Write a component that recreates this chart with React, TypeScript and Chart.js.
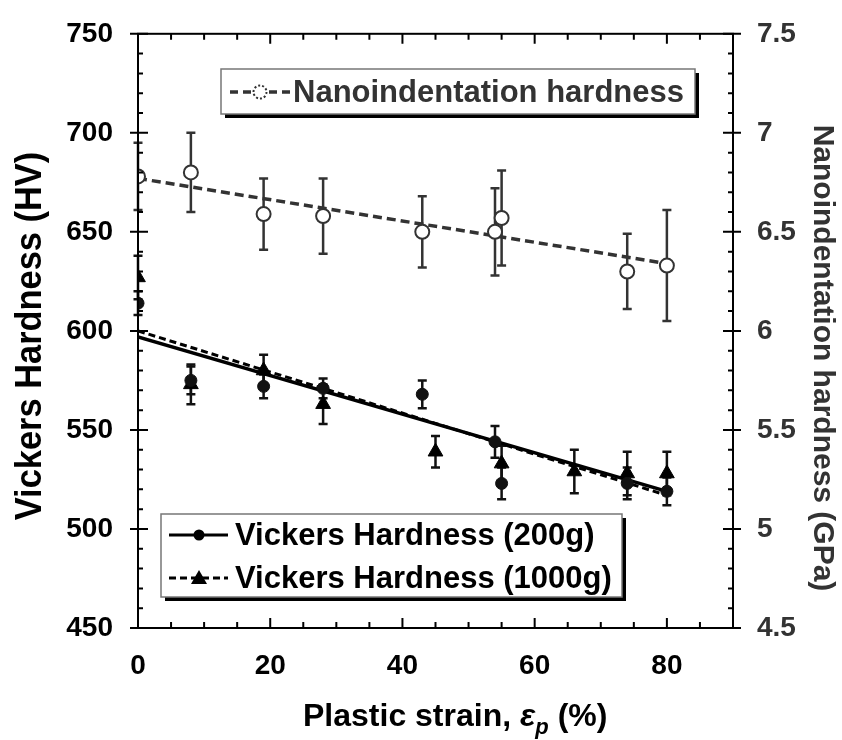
import React, { useEffect, useRef } from 'react';
import { Chart, registerables } from 'chart.js';

Chart.register(...registerables);

// ---- data ----
const strainNano = [0, 8, 19, 28, 43, 54, 55, 74, 80];
const nanoHardness = [6.78, 6.80, 6.59, 6.58, 6.50, 6.50, 6.57, 6.30, 6.33];
const nanoErr = [0.17, 0.20, 0.18, 0.19, 0.18, 0.22, 0.24, 0.19, 0.28];

const strain200 = [0, 8, 19, 28, 43, 54, 55, 74, 80];
const hv200 = [614, 575, 572, 571, 568, 544, 523, 523, 519];
const hv200Err = [6, 7, 6, 5, 7, 8, 8, 8, 7];

const strain1000 = [0, 8, 19, 28, 45, 55, 66, 74, 80];
const hv1000 = [627, 573, 580, 563, 539, 533, 529, 528, 528];
const hv1000Err = [11, 10, 8, 10, 8, 9, 11, 11, 11];

const fitStrain = [0, 80];
const fitNano = [6.77, 6.34];
const fit200 = [597, 519];
const fit1000 = [600, 517];

const xTickLabels = [0, 20, 40, 60, 80];
const yTickLabels = [450, 500, 550, 600, 650, 700, 750];
const y2TickLabels = ['4.5', '5', '5.5', '6', '6.5', '7', '7.5'];

const legendNano = 'Nanoindentation hardness';
const legend200 = 'Vickers Hardness (200g)';
const legend1000 = 'Vickers Hardness (1000g)';
const yTitle = 'Vickers Hardness (HV)';
const y2Title = 'Nanoindentation hardness (GPa)';

const FONT = '"Liberation Sans", Arial, Helvetica, sans-serif';
const GRAY = '#333';

const pts = (xs: number[], ys: number[]) => xs.map((x, i) => ({ x, y: ys[i] }));

const decor = {
  id: 'decor',
  beforeDatasetsDraw(chart: any) {
    const { ctx } = chart;
    const xs = chart.scales.x;
    const drawErr = (sx: number[], sy: number[], se: number[], scale: any, color: string) => {
      ctx.save();
      ctx.strokeStyle = color;
      ctx.lineWidth = 2.5;
      sx.forEach((v, i) => {
        const px = xs.getPixelForValue(v);
        const top = scale.getPixelForValue(sy[i] + se[i]);
        const bot = scale.getPixelForValue(sy[i] - se[i]);
        ctx.beginPath();
        ctx.moveTo(px, top);
        ctx.lineTo(px, bot);
        ctx.moveTo(px - 4.5, top);
        ctx.lineTo(px + 4.5, top);
        ctx.moveTo(px - 4.5, bot);
        ctx.lineTo(px + 4.5, bot);
        ctx.stroke();
      });
      ctx.restore();
    };
    drawErr(strainNano, nanoHardness, nanoErr, chart.scales.y2, GRAY);
    drawErr(strain200, hv200, hv200Err, chart.scales.y, '#111');
    drawErr(strain1000, hv1000, hv1000Err, chart.scales.y, '#111');
  },
  afterDraw(chart: any) {
    const { ctx, chartArea: a } = chart;
    const xs = chart.scales.x;
    const ys = chart.scales.y;
    ctx.save();
    // frame
    ctx.strokeStyle = '#000';
    ctx.lineWidth = 2;
    ctx.strokeRect(a.left, a.top, a.right - a.left, a.bottom - a.top);
    // ticks
    ctx.beginPath();
    for (let v = 450; v <= 750; v += 10) {
      const py = ys.getPixelForValue(v);
      const major = v % 50 === 0;
      if (major) {
        ctx.moveTo(a.left - 8, py); ctx.lineTo(a.left + 10, py);
        ctx.moveTo(a.right + 8, py); ctx.lineTo(a.right - 10, py);
      } else {
        ctx.moveTo(a.left, py); ctx.lineTo(a.left + 5, py);
        ctx.moveTo(a.right, py); ctx.lineTo(a.right - 5, py);
      }
    }
    for (let v = 0; v <= 90; v += 5) {
      const px = xs.getPixelForValue(v);
      const len = v % 20 === 0 && v <= 80 ? 10 : 6;
      ctx.moveTo(px, a.bottom); ctx.lineTo(px, a.bottom - len);
      ctx.moveTo(px, a.top); ctx.lineTo(px, a.top + len);
    }
    ctx.stroke();

    // legend boxes
    const box = (x: number, y: number, w: number, h: number) => {
      ctx.fillStyle = '#000';
      ctx.fillRect(x + 4, y + 4, w, h);
      ctx.fillStyle = '#fff';
      ctx.fillRect(x, y, w, h);
      ctx.strokeStyle = '#777';
      ctx.lineWidth = 1.5;
      ctx.strokeRect(x, y, w, h);
    };
    // legend 1
    box(221, 69, 474, 45);
    ctx.strokeStyle = GRAY;
    ctx.lineWidth = 3.5;
    ctx.setLineDash([8, 5]);
    ctx.beginPath();
    ctx.moveTo(230, 92); ctx.lineTo(290, 92);
    ctx.stroke();
    ctx.setLineDash([]);
    ctx.fillStyle = '#fff';
    ctx.lineWidth = 2;
    ctx.beginPath();
    ctx.arc(260, 92, 6.5, 0, Math.PI * 2);
    ctx.fill();
    ctx.setLineDash([2, 2]);
    ctx.stroke();
    ctx.setLineDash([]);
    ctx.fillStyle = GRAY;
    ctx.font = `bold 31px ${FONT}`;
    ctx.textAlign = 'left';
    ctx.textBaseline = 'middle';
    ctx.fillText(legendNano, 293, 93);

    // legend 2
    box(161, 514, 461, 83);
    ctx.strokeStyle = '#000';
    ctx.fillStyle = '#000';
    ctx.lineWidth = 3;
    ctx.beginPath();
    ctx.moveTo(169, 535); ctx.lineTo(228, 535);
    ctx.stroke();
    ctx.beginPath();
    ctx.arc(199, 535, 5.5, 0, Math.PI * 2);
    ctx.fill();
    ctx.setLineDash([7, 4]);
    ctx.beginPath();
    ctx.moveTo(169, 578); ctx.lineTo(228, 578);
    ctx.stroke();
    ctx.setLineDash([]);
    ctx.beginPath();
    ctx.moveTo(199, 570); ctx.lineTo(207, 584); ctx.lineTo(191, 584); ctx.closePath();
    ctx.fill();
    ctx.font = `bold 31px ${FONT}`;
    ctx.fillText(legend200, 235, 536);
    ctx.fillText(legend1000, 235, 579);

    // axis titles
    ctx.save();
    ctx.translate(31, 336);
    ctx.rotate(-Math.PI / 2);
    ctx.scale(0.93, 1);
    ctx.textAlign = 'center';
    ctx.textBaseline = 'middle';
    ctx.fillStyle = '#000';
    ctx.font = `bold 37px ${FONT}`;
    ctx.fillText(yTitle, 0, 0);
    ctx.restore();

    ctx.save();
    ctx.translate(822, 358);
    ctx.rotate(Math.PI / 2);
    ctx.textAlign = 'center';
    ctx.textBaseline = 'middle';
    ctx.fillStyle = GRAY;
    ctx.font = `bold 30px ${FONT}`;
    ctx.fillText(y2Title, 0, 0);
    ctx.restore();

    // x title with subscript
    ctx.fillStyle = '#000';
    ctx.textBaseline = 'alphabetic';
    ctx.textAlign = 'left';
    let tx = 303;
    const ty = 726;
    ctx.font = `bold 32px ${FONT}`;
    ctx.fillText('Plastic strain, ', tx, ty);
    tx += ctx.measureText('Plastic strain, ').width;
    ctx.font = `italic bold 32px ${FONT}`;
    ctx.fillText('ε', tx, ty);
    tx += ctx.measureText('ε').width;
    ctx.font = `italic bold 22px ${FONT}`;
    ctx.fillText('p', tx, ty + 8);
    tx += ctx.measureText('p').width;
    ctx.font = `bold 32px ${FONT}`;
    ctx.fillText(' (%)', tx, ty);
    ctx.restore();
  },
};

export default function App() {
  const ref = useRef<HTMLCanvasElement>(null);
  useEffect(() => {
    if (!ref.current) return;
    const chart = new Chart(ref.current, {
      type: 'scatter',
      data: {
        datasets: [
          {
            label: 'Nano points',
            data: pts(strainNano, nanoHardness),
            yAxisID: 'y2',
            pointStyle: 'circle',
            pointRadius: 7,
            backgroundColor: '#fff',
            borderColor: GRAY,
            borderWidth: 2,
            showLine: false,
          },
          {
            label: '200g points',
            data: pts(strain200, hv200),
            yAxisID: 'y',
            pointStyle: 'circle',
            pointRadius: 6,
            backgroundColor: '#111',
            borderColor: '#111',
            borderWidth: 1,
            showLine: false,
          },
          {
            label: '1000g points',
            data: pts(strain1000, hv1000),
            yAxisID: 'y',
            pointStyle: 'triangle',
            pointRadius: 8.5,
            backgroundColor: '#000',
            borderColor: '#000',
            borderWidth: 1,
            showLine: false,
          },
          {
            label: 'Nano fit',
            data: pts(fitStrain, fitNano),
            yAxisID: 'y2',
            showLine: true,
            borderColor: GRAY,
            borderWidth: 3.5,
            borderDash: [9, 5],
            pointRadius: 0,
          },
          {
            label: '200g fit',
            data: pts(fitStrain, fit200),
            yAxisID: 'y',
            showLine: true,
            borderColor: '#000',
            borderWidth: 3.5,
            pointRadius: 0,
          },
          {
            label: '1000g fit',
            data: pts(fitStrain, fit1000),
            yAxisID: 'y',
            showLine: true,
            borderColor: '#000',
            borderWidth: 3,
            borderDash: [7, 4],
            pointRadius: 0,
          },
        ],
      },
      options: {
        responsive: false,
        animation: false,
        layout: { padding: { top: 31, left: 0, right: 0, bottom: 0 } },
        plugins: { legend: { display: false }, tooltip: { enabled: false } },
        scales: {
          x: {
            type: 'linear',
            position: 'bottom',
            min: 0,
            max: 90,
            grid: { display: false },
            border: { display: false },
            afterFit: (s: any) => { s.height = 112; },
            ticks: {
              stepSize: 20,
              padding: 13,
              color: '#000',
              font: { family: FONT, size: 28, weight: 'bold' },
              callback: (v: any) => (xTickLabels.includes(v) ? String(v) : ''),
            },
          },
          y: {
            type: 'linear',
            position: 'left',
            min: 450,
            max: 750,
            grid: { display: false },
            border: { display: false },
            afterFit: (s: any) => { s.width = 138; },
            ticks: {
              stepSize: 50,
              padding: 17,
              color: '#000',
              font: { family: FONT, size: 28, weight: 'bold' },
              callback: (v: any) => (yTickLabels.includes(v) ? String(v) : ''),
            },
          },
          y2: {
            type: 'linear',
            position: 'right',
            min: 4.5,
            max: 7.5,
            grid: { display: false },
            border: { display: false },
            afterFit: (s: any) => { s.width = 109; },
            ticks: {
              stepSize: 0.5,
              padding: 16,
              color: GRAY,
              font: { family: FONT, size: 28, weight: 'bold' },
              callback: (v: any) => {
                const idx = Math.round((v - 4.5) / 0.5);
                return y2TickLabels[idx] ?? '';
              },
            },
          },
        },
      },
      plugins: [decor],
    } as any);
    return () => chart.destroy();
  }, []);
  return (
    <div style={{ position: 'absolute', left: 0, top: 0, width: 842, height: 740, background: '#fff' }}>
      <canvas ref={ref} width={842} height={740} />
    </div>
  );
}
